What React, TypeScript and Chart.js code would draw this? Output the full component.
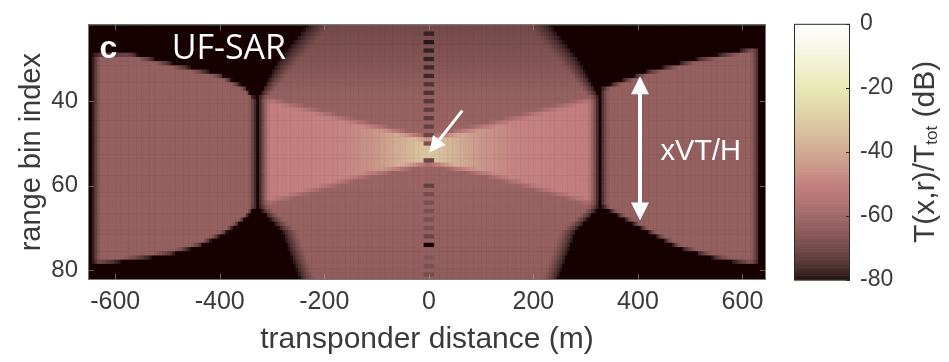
import React, { useEffect, useRef } from "react";
import { Chart, registerables } from "chart.js";
Chart.register(...registerables);

// ---- axes ----
const xTickValues = [-600, -400, -200, 0, 200, 400, 600];
const yTickValues = [40, 60, 80];
const colorbarTicks = [-80, -60, -40, -20, 0];
const xLimits = [-652, 645];
const yLimits = [21.8, 82.3];

// ---- image content (dB) ----
const backgroundLevel = -80;

// left block (x in m, boundary in range bins)
const leftTopX = [-636, -573, -477, -401, -353, -337];
const leftTopBin = [29.2, 29.0, 31.9, 34.0, 37.0, 39.3];
const leftBottomX = [-636, -573, -496, -439, -391, -353, -337];
const leftBottomBin = [78.2, 77.3, 75.9, 73.9, 70.9, 67.5, 65.3];
const leftEdgesX = [-636, -337];
const leftLevel = -63;

// right block
const rightTopX = [336, 374, 422, 517, 594, 624];
const rightTopBin = [37.0, 35.3, 33.2, 30.3, 28.5, 27.6];
const rightBottomX = [336, 401, 478, 555, 612, 624];
const rightBottomBin = [64.8, 69.3, 74.3, 77.0, 78.2, 78.2];
const rightEdgesX = [336, 624];
const rightLevel = -63;

// central dome: half width (m) per range bin, and edge softness (m)
const domeBin = [21.8, 30.3, 38.8, 65.3, 70.9, 82.3];
const domeHalfWidth = [210, 268, 315, 315, 266, 232];
const domeSoftness = [45, 40, 20, 20, 30, 30];
const centerBin = [22, 30, 38, 50, 64, 82];
const centerLevel = [-70, -67, -63, -61, -62, -64];

// bright bow-tie
const bowtieX = [0, 117, 315];
const bowtieTopBin = [49.0, 45.6, 39.3];
const bowtieBottomBin = [54.4, 57.4, 64.2];
const glowX = [0, 50, 100, 160, 230, 315];
const glowLevel = [-31, -38, -45, -49, -50, -51];

// dark dashes along x = 0
const dashBins = [24, 26, 28, 30, 32, 34, 36, 38, 40, 42, 44, 46, 48, 50, 54, 60, 62, 64, 66, 68, 70, 72, 74, 77, 79, 81];
const dashLevels = [-78, -79, -78, -78, -77, -77, -75, -75, -74, -73, -73, -72, -71, -67, -71, -72, -69, -68, -68, -68, -68, -71, -80, -66, -68, -69];

// ---- helpers ----
const clamp = (v: number, a: number, b: number) => Math.max(a, Math.min(b, v));
function interp(xs: number[], ys: number[], x: number) {
  if (x <= xs[0]) return ys[0];
  for (let i = 1; i < xs.length; i++) {
    if (x <= xs[i]) {
      const t = (x - xs[i - 1]) / (xs[i] - xs[i - 1]);
      return ys[i - 1] + t * (ys[i] - ys[i - 1]);
    }
  }
  return ys[ys.length - 1];
}
// MATLAB-like "pink" colormap over -80..0 dB
function pinkColor(db: number) {
  const t = clamp((db + 80) / 80, 0, 1);
  const hr = Math.min(1, t / 0.375 + 0.025);
  const hg = clamp((t - 0.375) / 0.375, 0, 1);
  const hb = clamp((t - 0.75) / 0.25, 0, 1);
  const r = Math.sqrt((2 * t + hr) / 3);
  const g = Math.sqrt((2 * t + hg) / 3);
  const b = Math.sqrt((2 * t + hb) / 3);
  return `rgb(${Math.round(r * 255)},${Math.round(g * 255)},${Math.round(b * 255)})`;
}

function blockValue(x: number, b: number, edges: number[], tx: number[], tb: number[], bx: number[], bb: number[], level: number) {
  if (x < edges[0] - 12 || x > edges[1] + 12) return null;
  const top = interp(tx, tb, x);
  const bot = interp(bx, bb, x);
  const fy = clamp(Math.min(b - top, bot - b) + 0.5, 0, 1);
  const fx = clamp(Math.min(x - edges[0], edges[1] - x) / 16 + 0.5, 0, 1);
  return backgroundLevel + (level - backgroundLevel) * fx * fy;
}

function cellValue(x: number, b: number) {
  let v = backgroundLevel;
  const l = blockValue(x, b, leftEdgesX, leftTopX, leftTopBin, leftBottomX, leftBottomBin, leftLevel);
  if (l !== null) v = Math.max(v, l);
  const r = blockValue(x, b, rightEdgesX, rightTopX, rightTopBin, rightBottomX, rightBottomBin, rightLevel);
  if (r !== null) v = Math.max(v, r);
  const ax = Math.abs(x);
  const hw = interp(domeBin, domeHalfWidth, b);
  const soft = interp(domeBin, domeSoftness, b);
  const fx = clamp((hw - ax) / soft + 0.5, 0, 1);
  if (fx > 0) {
    const base = interp(centerBin, centerLevel, b);
    const top = interp(bowtieX, bowtieTopBin, ax);
    const bot = interp(bowtieX, bowtieBottomBin, ax);
    const fb = clamp(Math.min(b - top, bot - b) / 1.6 + 0.5, 0, 1);
    const gl = interp(glowX, glowLevel, ax);
    let lvl = base + (gl - base) * fb;
    if (ax < 10) {
      const i = dashBins.indexOf(b);
      if (i >= 0) lvl = dashLevels[i];
    }
    v = Math.max(v, backgroundLevel + (lvl - backgroundLevel) * fx);
  }
  return v;
}

const FONT = "'Liberation Sans', Arial, sans-serif";
const TEXT = "#3a3a3a";

const heatmapPlugin = {
  id: "heatmap",
  beforeDatasetsDraw(chart: any) {
    const { ctx, chartArea: a, scales } = chart;
    const xs = scales.x, ys = scales.y;
    ctx.save();
    ctx.beginPath();
    ctx.rect(a.left, a.top, a.right - a.left, a.bottom - a.top);
    ctx.clip();
    ctx.fillStyle = pinkColor(backgroundLevel);
    ctx.fillRect(a.left, a.top, a.right - a.left, a.bottom - a.top);
    for (let b = 21; b <= 83; b++) {
      const y0 = ys.getPixelForValue(b - 0.5);
      const y1 = ys.getPixelForValue(b + 0.5);
      for (let xc = -657.5; xc <= 652.5; xc += 5) {
        const x0 = xs.getPixelForValue(xc - 2.5);
        const x1 = xs.getPixelForValue(xc + 2.5);
        ctx.fillStyle = pinkColor(cellValue(xc, b));
        ctx.fillRect(x0, Math.min(y0, y1), x1 - x0 + 0.5, Math.abs(y1 - y0) + 0.5);
      }
    }
    ctx.restore();
  },
  afterDraw(chart: any) {
    const { ctx, chartArea: a, scales } = chart;
    const xs = scales.x, ys = scales.y;
    ctx.save();
    // inward ticks
    ctx.strokeStyle = "rgba(170,170,170,0.55)";
    ctx.lineWidth = 1;
    for (const v of xTickValues) {
      const p = Math.round(xs.getPixelForValue(v)) + 0.5;
      ctx.beginPath();
      ctx.moveTo(p, a.bottom); ctx.lineTo(p, a.bottom - 6);
      ctx.moveTo(p, a.top); ctx.lineTo(p, a.top + 6);
      ctx.stroke();
    }
    for (const v of yTickValues) {
      const p = Math.round(ys.getPixelForValue(v)) + 0.5;
      ctx.beginPath();
      ctx.moveTo(a.left, p); ctx.lineTo(a.left + 6, p);
      ctx.moveTo(a.right, p); ctx.lineTo(a.right - 6, p);
      ctx.stroke();
    }
    // frame
    ctx.strokeStyle = "#777";
    ctx.strokeRect(a.left + 0.5, a.top + 0.5, a.right - a.left - 1, a.bottom - a.top - 1);

    // annotations
    ctx.fillStyle = "#fff";
    ctx.strokeStyle = "#fff";
    ctx.textBaseline = "alphabetic";
    ctx.textAlign = "left";
    ctx.font = `bold 32px ${FONT}`;
    ctx.fillText("c", xs.getPixelForValue(-630), ys.getPixelForValue(29.8));
    ctx.font = `34px 'Open Sans', 'Noto Sans', sans-serif`;
    ctx.fillText("UF-SAR", xs.getPixelForValue(-492), ys.getPixelForValue(30.0));
    ctx.font = `29px ${FONT}`;
    ctx.fillText("xVT/H", xs.getPixelForValue(443), ys.getPixelForValue(54.0));

    // double arrow
    const ax = xs.getPixelForValue(404);
    const ay0 = ys.getPixelForValue(34.05);
    const ay1 = ys.getPixelForValue(68.2);
    const hl = 18, hw = 9;
    ctx.lineWidth = 4;
    ctx.beginPath();
    ctx.moveTo(ax, ay0 + hl - 2); ctx.lineTo(ax, ay1 - hl + 2);
    ctx.stroke();
    ctx.beginPath();
    ctx.moveTo(ax, ay0); ctx.lineTo(ax - hw, ay0 + hl); ctx.lineTo(ax + hw, ay0 + hl); ctx.closePath();
    ctx.fill();
    ctx.beginPath();
    ctx.moveTo(ax, ay1); ctx.lineTo(ax - hw, ay1 - hl); ctx.lineTo(ax + hw, ay1 - hl); ctx.closePath();
    ctx.fill();

    // small arrow
    const sx = xs.getPixelForValue(64), sy = ys.getPixelForValue(42.2);
    const tx = xs.getPixelForValue(1), ty = ys.getPixelForValue(52.1);
    const ang = Math.atan2(ty - sy, tx - sx);
    const shl = 16, shw = 8;
    const bx = tx - shl * Math.cos(ang), by = ty - shl * Math.sin(ang);
    ctx.lineWidth = 3;
    ctx.beginPath();
    ctx.moveTo(sx, sy); ctx.lineTo(bx, by);
    ctx.stroke();
    ctx.beginPath();
    ctx.moveTo(tx, ty);
    ctx.lineTo(bx - shw * Math.sin(ang), by + shw * Math.cos(ang));
    ctx.lineTo(bx + shw * Math.sin(ang), by - shw * Math.cos(ang));
    ctx.closePath();
    ctx.fill();
    ctx.restore();
  },
};

const colorbarPlugin = {
  id: "colorbar",
  beforeDatasetsDraw(chart: any) {
    const { ctx, chartArea: a, scales } = chart;
    const ys = scales.y;
    ctx.save();
    for (let d = -80; d < 0; d += 0.5) {
      const y0 = ys.getPixelForValue(d);
      const y1 = ys.getPixelForValue(d + 0.5);
      ctx.fillStyle = pinkColor(d + 0.25);
      ctx.fillRect(a.left, Math.min(y0, y1), a.right - a.left, Math.abs(y1 - y0) + 0.6);
    }
    ctx.restore();
  },
  afterDraw(chart: any) {
    const { ctx, chartArea: a, scales } = chart;
    const ys = scales.y;
    ctx.save();
    ctx.strokeStyle = "#2a2a2a";
    ctx.lineWidth = 1;
    for (const v of colorbarTicks) {
      const p = Math.round(ys.getPixelForValue(v)) + 0.5;
      ctx.beginPath();
      ctx.moveTo(a.right, p); ctx.lineTo(a.right - 4, p);
      ctx.stroke();
    }
    ctx.strokeRect(a.left + 0.5, a.top + 0.5, a.right - a.left - 1, a.bottom - a.top - 1);

    // title, rotated
    const main = "T(x,r)/T", sub = "tot", tail = " (dB)";
    ctx.fillStyle = TEXT;
    ctx.textBaseline = "alphabetic";
    ctx.textAlign = "left";
    const mf = `30px ${FONT}`, sf = `17px ${FONT}`;
    ctx.font = mf; const w1 = ctx.measureText(main).width; const w3 = ctx.measureText(tail).width;
    ctx.font = sf; const w2 = ctx.measureText(sub).width;
    const total = w1 + w2 + w3;
    const cy = (a.top + a.bottom) / 2;
    ctx.translate(154, cy);
    ctx.rotate(-Math.PI / 2);
    let px = -total / 2;
    ctx.font = mf; ctx.fillText(main, px, 0); px += w1;
    ctx.font = sf; ctx.fillText(sub, px, 3); px += w2;
    ctx.font = mf; ctx.fillText(tail, px, 0);
    ctx.restore();
  },
};

export default function App() {
  const mainRef = useRef<HTMLCanvasElement>(null);
  const cbRef = useRef<HTMLCanvasElement>(null);

  useEffect(() => {
    const main = new Chart(mainRef.current as HTMLCanvasElement, {
      type: "scatter",
      data: { datasets: [] },
      plugins: [heatmapPlugin],
      options: {
        responsive: false,
        animation: false,
        events: [],
        layout: { padding: { left: 0, top: 13, right: 14, bottom: 0 } },
        plugins: { legend: { display: false }, tooltip: { enabled: false } },
        scales: {
          x: {
            type: "linear",
            min: xLimits[0],
            max: xLimits[1],
            grid: { display: false, drawTicks: false },
            border: { display: false },
            afterBuildTicks: (s: any) => { s.ticks = xTickValues.map((v) => ({ value: v })); },
            afterFit: (s: any) => { s.height = 82; },
            ticks: { padding: 7, color: TEXT, font: { size: 25, family: FONT }, maxRotation: 0, autoSkip: false },
            title: { display: true, text: "transponder distance (m)", color: TEXT, font: { size: 30, family: FONT }, padding: { top: 0, bottom: 4 } },
          },
          y: {
            type: "linear",
            reverse: true,
            min: yLimits[0],
            max: yLimits[1],
            grid: { display: false, drawTicks: false },
            border: { display: false },
            afterBuildTicks: (s: any) => { s.ticks = yTickValues.map((v) => ({ value: v })); },
            afterFit: (s: any) => { s.width = 88; },
            ticks: { padding: 10, color: TEXT, font: { size: 24, family: FONT }, autoSkip: false },
            title: { display: true, text: "range bin index", color: TEXT, font: { size: 29, family: FONT }, padding: { top: 15, bottom: 0 } },
          },
        },
      },
    } as any);

    const cb = new Chart(cbRef.current as HTMLCanvasElement, {
      type: "scatter",
      data: { datasets: [] },
      plugins: [colorbarPlugin],
      options: {
        responsive: false,
        animation: false,
        events: [],
        layout: { padding: { left: 14, top: 13, right: 0, bottom: 82 } },
        plugins: { legend: { display: false }, tooltip: { enabled: false } },
        scales: {
          x: { display: false, min: 0, max: 1 },
          y: {
            type: "linear",
            position: "right",
            min: -80,
            max: 0,
            grid: { display: false, drawTicks: false },
            border: { display: false },
            afterBuildTicks: (s: any) => { s.ticks = colorbarTicks.map((v) => ({ value: v })); },
            afterFit: (s: any) => { s.width = 99; },
            ticks: { padding: 10, color: TEXT, font: { size: 23, family: FONT }, autoSkip: false },
          },
        },
      },
    } as any);

    return () => { main.destroy(); cb.destroy(); };
  }, []);

  return (
    <div style={{ position: "absolute", left: 0, top: 0, width: 949, height: 362, background: "#fff", overflow: "hidden" }}>
      <canvas ref={mainRef} width={780} height={362} style={{ position: "absolute", left: 0, top: 0, width: 780, height: 362 }} />
      <canvas ref={cbRef} width={169} height={362} style={{ position: "absolute", left: 780, top: 0, width: 169, height: 362 }} />
    </div>
  );
}
